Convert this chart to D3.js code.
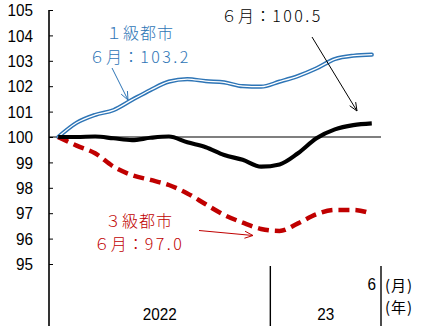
<!DOCTYPE html>
<html><head><meta charset="utf-8">
<script src="https://cdn.jsdelivr.net/npm/d3@7"></script>
<style>
html,body{margin:0;padding:0;background:#fff;}
svg{display:block;}
</style></head>
<body>
<svg id="c" width="439" height="328"></svg>
<script>
const months = ["2022-01","2022-02","2022-03","2022-04","2022-05","2022-06","2022-07","2022-08","2022-09","2022-10","2022-11","2022-12","2023-01","2023-02","2023-03","2023-04","2023-05","2023-06"];
const tier1 = [100,100.56,100.87,101.06,101.46,101.85,102.18,102.28,102.2,102.15,102.0,101.98,102.18,102.4,102.7,103.07,103.2,103.24];
const national = [100,100.0,100.02,99.95,99.88,99.97,100.02,99.79,99.6,99.29,99.1,98.83,98.92,99.36,99.95,100.3,100.47,100.54];
const tier3 = [100,99.66,99.36,98.83,98.5,98.31,98.11,97.78,97.35,96.93,96.63,96.38,96.3,96.6,96.96,97.13,97.13,96.98];
const yTicks = [95,96,97,98,99,100,101,102,103,104,105];
const yearGroups = [{label:"2022", from:"2022-01", to:"2022-12"},{label:"23", from:"2023-01", to:"2023-06"}];
const monthLabel = {month:"2023-06", text:"6"};
const unitLabels = ["(月)","(年)"];
const notes = [
  {lines:[["１級都市",""],["６月：","103.2"]], color:"#2E75B6"},
  {lines:[["６月：","100.5"]], color:"#000"},
  {lines:[["３級都市",""],["６月：","97.0"]], color:"#C00000"}
];

const svg = d3.select("#c");
const x = d3.scaleBand().domain(months).range([49,381]).padding(0);
const y = d3.scaleLinear().domain([95,105]).range([264,10]);
const cx = d => x(d) + x.bandwidth()/2;
const numFont = "'Liberation Sans Narrow','Arial Narrow','Liberation Sans',Arial,sans-serif";
const jpFont = "'Noto Sans CJK JP','Noto Sans',sans-serif";

// y axis
const yAxis = d3.axisLeft(y).tickValues(yTicks).tickSizeInner(-4).tickSizeOuter(0).tickPadding(16).tickFormat(d3.format("d"));
const gy = svg.append("g").attr("transform","translate(49,0)").call(yAxis);
gy.select(".domain").remove();
gy.selectAll(".tick line").attr("stroke","#000").attr("stroke-width",1);
gy.selectAll(".tick text").attr("font-family",numFont).attr("font-size",17).attr("fill","#000").attr("dy","0.34em").attr("transform","translate(-15,0) scale(0.9,1)").attr("x",0).attr("text-anchor","end");
gy.selectAll(".tick text").attr("transform","translate(-16,0) scale(0.9,1)");
svg.append("line").attr("x1",49).attr("x2",49).attr("y1",y(105)).attr("y2",326).attr("stroke","#000").attr("stroke-width",1.6);

// baseline 100
svg.append("line").attr("x1",49).attr("x2",381).attr("y1",y(100)).attr("y2",y(100)).attr("stroke","#000").attr("stroke-width",1.2);

// separators & category labels
const sepX = [x("2023-01"), x("2023-06")+x.bandwidth()];
sepX.forEach(sx => svg.append("line").attr("x1",sx).attr("x2",sx).attr("y1",266).attr("y2",326).attr("stroke","#000").attr("stroke-width",1.4));
yearGroups.forEach(g => {
  const mid = (x(g.from) + x(g.to) + x.bandwidth())/2;
  svg.append("text").attr("transform",`translate(${mid},320) scale(0.9,1)`).attr("text-anchor","middle").attr("font-family",numFont).attr("font-size",17).text(g.label);
});
svg.append("text").attr("transform",`translate(${sepX[1]-5},290) scale(0.9,1)`).attr("text-anchor","end").attr("font-family",numFont).attr("font-size",17).text(monthLabel.text);
svg.append("text").attr("x",sepX[1]+4).attr("y",291).attr("font-family",jpFont).attr("font-size",15).attr("letter-spacing",1).text(unitLabels[0]);
svg.append("text").attr("x",sepX[1]+4).attr("y",313).attr("font-family",jpFont).attr("font-size",15).attr("letter-spacing",1).text(unitLabels[1]);

// lines
const line = d3.line().x((d,i)=>cx(months[i])).y(d=>y(d)).curve(d3.curveMonotoneX);
svg.append("path").datum(tier1).attr("d",line).attr("fill","none").attr("stroke","#2E75B6").attr("stroke-width",4.2).attr("stroke-linejoin","round").attr("stroke-linecap","round");
svg.append("path").datum(tier1).attr("d",line).attr("fill","none").attr("stroke","#fff").attr("stroke-width",1.3).attr("stroke-linejoin","round").attr("stroke-linecap","round");
svg.append("path").datum(tier3).attr("d",line).attr("fill","none").attr("stroke","#C00000").attr("stroke-width",4.5).attr("stroke-dasharray","11,6");
svg.append("path").datum(national).attr("d",line).attr("fill","none").attr("stroke","#000").attr("stroke-width",4.2).attr("stroke-linejoin","round");

// annotations
function arrow(x1,y1,x2,y2,color){
  svg.append("line").attr("x1",x1).attr("y1",y1).attr("x2",x2).attr("y2",y2).attr("stroke",color).attr("stroke-width",1);
  const a = Math.atan2(y2-y1,x2-x1), L=9, w=0.4;
  const p1=[x2-L*Math.cos(a-w), y2-L*Math.sin(a-w)], p2=[x2-L*Math.cos(a+w), y2-L*Math.sin(a+w)];
  svg.append("path").attr("d",`M${p1}L${x2},${y2}L${p2}`).attr("fill","none").attr("stroke",color).attr("stroke-width",1);
}
function note(n, cxp, ys){
  n.lines.forEach((t,i)=>{
    const tx = svg.append("text").attr("x",cxp).attr("y",ys[i]).attr("text-anchor","middle").attr("font-family",jpFont).attr("font-size",16).attr("font-weight",300).attr("fill",n.color);
    tx.append("tspan").attr("letter-spacing",1).text(t[0]);
    if (t[1]) tx.append("tspan").attr("letter-spacing",2.5).text(t[1]);
  });
}
note(notes[0],140,[39,63]);
arrow(112,68,128,100,"#2E75B6");
note(notes[1],272,[22]);
arrow(312,37,357,111,"#000");
note(notes[2],139,[227,250]);
arrow(199,230.5,253,235.5,"#C00000");
</script>
</body></html>
